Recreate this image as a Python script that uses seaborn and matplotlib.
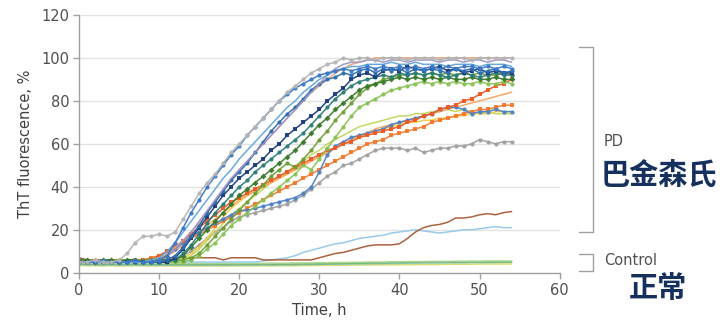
import matplotlib
matplotlib.use("Agg")
import matplotlib.pyplot as plt
import seaborn as sns

# -----------------------------
# data (ThT fluorescence, % ; one reading per hour, 0-54 h)
# -----------------------------
hours = list(range(0, 55))

gray_top = [5, 5, 6, 5, 5, 6, 9, 14, 17, 17, 18,
            17, 19, 25, 31, 37, 42, 46, 51, 56, 60, 64,
            68, 72, 76, 80, 84, 87, 90, 93, 95, 97, 98,
            100, 99, 100, 100, 99, 100, 100, 100, 99, 100, 100,
            100, 99, 100, 100, 100, 99, 100, 100, 100, 100, 100]
blue_fast = [5, 5, 5, 6, 5, 5, 5, 6, 5, 5, 6,
             8, 14, 21, 28, 34, 40, 45, 50, 55, 59, 64,
             68, 72, 76, 80, 83, 86, 88, 90, 92, 93, 94,
             95, 94, 95, 96, 95, 96, 95, 96, 95, 96, 95,
             96, 95, 96, 95, 96, 96, 95, 96, 95, 96, 95]
blue_thin = [5, 5, 5, 5, 5, 5, 5, 5, 5, 6, 7,
             10, 14, 19, 24, 29, 34, 39, 44, 48, 53, 57,
             61, 65, 69, 73, 77, 80, 84, 87, 90, 92, 94,
             95, 96, 96, 97, 97, 97, 98, 97, 97, 98, 97,
             97, 97, 96, 97, 97, 97, 96, 97, 97, 97, 96]
slate_thin = [5, 5, 5, 5, 5, 5, 5, 5, 5, 5, 6,
              8, 11, 15, 19, 24, 29, 34, 39, 44, 48, 52,
              56, 60, 64, 68, 72, 76, 80, 84, 88, 92, 95,
              97, 98, 98, 99, 99, 98, 99, 99, 98, 99, 99,
              99, 98, 99, 99, 98, 99, 99, 98, 99, 99, 98]
steel_blue = [5, 5, 5, 5, 5, 5, 5, 5, 5, 5, 5,
              6, 8, 12, 17, 22, 28, 33, 38, 43, 47, 51,
              56, 61, 66, 70, 74, 77, 81, 85, 88, 90, 91,
              93, 92, 94, 95, 93, 95, 94, 95, 93, 95, 94,
              95, 94, 93, 95, 94, 95, 93, 94, 95, 93, 94]
navy = [5, 5, 5, 5, 5, 5, 5, 5, 5, 5, 5,
        5, 7, 11, 16, 21, 26, 31, 36, 40, 44, 47,
        50, 53, 57, 60, 64, 67, 70, 73, 76, 80, 83,
        86, 90, 92, 93, 91, 94, 95, 94, 96, 95, 94,
        95, 96, 94, 95, 93, 94, 95, 93, 94, 93, 93]
teal = [5, 5, 5, 5, 5, 5, 5, 5, 5, 5, 5,
        5, 6, 9, 13, 18, 23, 28, 32, 36, 40, 43,
        47, 50, 53, 56, 59, 62, 65, 69, 73, 77, 81,
        84, 87, 89, 90, 91, 92, 91, 93, 92, 93, 92,
        93, 92, 91, 92, 93, 92, 91, 92, 93, 92, 92]
tan_line = [5, 5, 5, 5, 5, 5, 5, 5, 5, 6, 7,
            9, 12, 15, 19, 23, 28, 33, 38, 43, 48, 52,
            56, 60, 64, 68, 72, 76, 80, 84, 87, 90, 93,
            95, 97, 98, 99, 100, 100, 100, 100, 100, 100, 100,
            100, 100, 100, 100, 100, 100, 100, 100, 100, 100, 100]
dark_green = [6, 6, 5, 6, 6, 5, 6, 6, 5, 6, 6,
              6, 6, 8, 12, 16, 20, 24, 28, 32, 36, 39,
              42, 45, 48, 51, 54, 57, 61, 65, 69, 72, 76,
              79, 82, 85, 87, 88, 89, 90, 91, 90, 91, 90,
              91, 90, 91, 90, 90, 91, 90, 90, 91, 90, 90]
olive = [5, 6, 6, 5, 6, 6, 6, 5, 6, 6, 6,
         6, 6, 6, 7, 9, 13, 17, 21, 25, 29, 33,
         37, 41, 45, 48, 51, 49, 53, 57, 62, 66, 71,
         75, 79, 83, 86, 88, 90, 91, 92, 92, 93, 92,
         93, 92, 93, 92, 93, 92, 93, 92, 92, 93, 92]
light_green = [5, 5, 5, 5, 5, 5, 5, 5, 5, 5, 5,
               5, 5, 5, 6, 8, 11, 14, 18, 22, 25, 28,
               31, 34, 37, 40, 43, 46, 50, 48, 53, 58, 63,
               68, 73, 77, 79, 81, 83, 85, 86, 87, 88, 89,
               88, 89, 88, 89, 88, 88, 89, 88, 88, 89, 88]
red_orange = [5, 5, 5, 5, 5, 5, 5, 5, 6, 6, 8,
              10, 12, 15, 18, 21, 24, 27, 30, 33, 35, 37,
              39, 41, 43, 45, 47, 49, 51, 53, 55, 57, 58,
              60, 61, 63, 64, 65, 66, 67, 68, 70, 71, 73,
              74, 76, 77, 78, 80, 81, 83, 85, 87, 88, 90]
orange = [5, 5, 5, 5, 5, 5, 5, 6, 6, 7, 8,
          10, 12, 14, 16, 18, 20, 22, 24, 26, 28, 30,
          32, 34, 36, 38, 40, 42, 44, 46, 48, 50, 52,
          54, 56, 58, 60, 61, 62, 64, 65, 66, 67, 68,
          70, 71, 72, 73, 74, 75, 76, 76, 77, 78, 78]
light_orange = [5, 5, 5, 5, 5, 5, 5, 5, 5, 6, 7,
                8, 10, 13, 16, 19, 22, 25, 28, 31, 34, 36,
                38, 40, 42, 44, 46, 48, 50, 52, 54, 56, 58,
                60, 62, 64, 65, 67, 68, 69, 70, 71, 72, 73,
                74, 75, 76, 77, 78, 79, 80, 81, 82, 83, 84]
yellow = [5, 5, 5, 5, 5, 5, 5, 5, 5, 5, 5,
          5, 6, 7, 9, 12, 16, 21, 26, 30, 33, 36,
          38, 40, 42, 44, 46, 48, 50, 52, 54, 56, 58,
          60, 62, 63, 65, 66, 67, 68, 69, 70, 70, 71,
          71, 72, 72, 73, 73, 74, 74, 74, 75, 75, 75]
yellow_green = [5, 5, 5, 5, 5, 5, 5, 5, 5, 5, 5,
                5, 5, 6, 8, 11, 15, 19, 23, 27, 30, 33,
                36, 39, 42, 45, 47, 50, 52, 55, 57, 60, 62,
                64, 66, 68, 69, 70, 71, 72, 73, 73, 74, 74,
                75, 75, 76, 75, 76, 75, 74, 75, 74, 74, 74]
blue_slow = [5, 5, 5, 5, 5, 5, 5, 5, 5, 5, 6,
             8, 11, 14, 17, 19, 21, 23, 25, 27, 29, 29,
             30, 31, 32, 33, 34, 35, 37, 40, 47, 55, 59,
             61, 63, 64, 65, 66, 67, 69, 70, 71, 72, 73,
             74, 76, 77, 77, 76, 74, 75, 75, 76, 75, 75]
gray_low = [5, 5, 5, 5, 5, 5, 5, 5, 5, 5, 5,
            5, 6, 8, 10, 13, 16, 19, 21, 24, 26, 27,
            28, 29, 30, 31, 32, 34, 36, 39, 42, 45, 47,
            50, 51, 53, 55, 57, 58, 58, 58, 57, 58, 56,
            57, 58, 58, 59, 59, 60, 62, 61, 60, 61, 61]
brown = [7, 6, 6, 6, 6, 6, 6, 6, 6, 6, 7,
         7, 7, 7, 7, 7, 7, 7, 6, 7, 7, 7,
         7, 6, 6, 6, 6, 6, 6, 6, 7, 8, 9,
         9.5, 10.5, 11.5, 12.5, 13, 13, 13, 13.5, 16, 19, 21,
         22, 22.5, 23.5, 25.5, 25.5, 26, 27, 27.5, 27, 28, 28.5]
sky_blue = [5, 5, 5, 5, 5, 5, 5, 5, 5, 5, 5,
            5, 5, 5, 5, 5, 5, 5, 5, 5, 5, 5,
            5, 5.5, 6, 6.5, 7, 8, 9.5, 10.5, 11.5, 12.5, 13.5,
            14, 15, 16, 16.5, 17, 17.5, 18.5, 19, 19.5, 20, 19.5,
            19, 18.5, 19, 19.5, 20, 20, 20.5, 21, 21.5, 21, 21]

ctrl_green = [4.2, 4.1, 4.0, 4.1, 4.0, 4.1, 4.0, 4.0, 4.1, 4.0, 4.0,
              4.0, 3.9, 4.0, 4.0, 3.9, 4.0, 4.0, 3.9, 4.0, 4.0, 4.0,
              4.0, 4.1, 4.0, 4.0, 4.1, 4.1, 4.2, 4.2, 4.3, 4.3, 4.4,
              4.4, 4.5, 4.5, 4.6, 4.7, 4.7, 4.8, 4.9, 4.9, 5.0, 5.0,
              5.0, 5.1, 5.1, 5.0, 5.1, 5.2, 5.1, 5.1, 5.2, 5.1, 5.1]
ctrl_teal = [3.8, 3.7, 3.7, 3.6, 3.7, 3.6, 3.6, 3.7, 3.6, 3.6, 3.6,
             3.5, 3.6, 3.6, 3.5, 3.6, 3.5, 3.6, 3.6, 3.5, 3.6, 3.6,
             3.6, 3.7, 3.6, 3.7, 3.7, 3.8, 3.8, 3.9, 3.9, 4.0, 4.0,
             4.1, 4.1, 4.2, 4.2, 4.3, 4.3, 4.4, 4.4, 4.5, 4.5, 4.6,
             4.6, 4.6, 4.7, 4.7, 4.7, 4.8, 4.8, 4.8, 4.8, 4.9, 4.9]
ctrl_yellow = [3.4, 3.3, 3.3, 3.2, 3.3, 3.2, 3.2, 3.3, 3.2, 3.2, 3.2,
               3.2, 3.1, 3.2, 3.2, 3.1, 3.2, 3.2, 3.1, 3.2, 3.2, 3.2,
               3.2, 3.3, 3.2, 3.3, 3.3, 3.3, 3.4, 3.4, 3.4, 3.5, 3.5,
               3.5, 3.6, 3.6, 3.6, 3.7, 3.7, 3.7, 3.8, 3.8, 3.8, 3.9,
               3.9, 3.9, 4.0, 4.0, 4.0, 4.0, 4.1, 4.1, 4.1, 4.1, 4.1]
ctrl_lime = [4.6, 4.5, 4.5, 4.4, 4.5, 4.4, 4.4, 4.5, 4.4, 4.4, 4.4,
             4.3, 4.4, 4.4, 4.3, 4.4, 4.3, 4.4, 4.4, 4.3, 4.4, 4.4,
             4.4, 4.4, 4.5, 4.5, 4.5, 4.6, 4.6, 4.6, 4.7, 4.7, 4.8,
             4.8, 4.9, 4.9, 5.0, 5.0, 5.0, 5.1, 5.1, 5.2, 5.2, 5.2,
             5.3, 5.3, 5.3, 5.4, 5.4, 5.4, 5.4, 5.5, 5.5, 5.5, 5.5]

# (values, colour, marker)
series = [
    (ctrl_yellow, "#dcd86a", None),
    (ctrl_teal, "#7cc0b4", None),
    (ctrl_green, "#6db86a", None),
    (ctrl_lime, "#a9d38e", None),
    (sky_blue, "#93c8ea", None),
    (brown, "#a85a35", None),
    (gray_low, "#a0a0a0", "o"),
    (yellow_green, "#c2d45a", None),
    (yellow, "#f3cc48", None),
    (light_orange, "#f7a560", None),
    (orange, "#f27a2e", "s"),
    (blue_slow, "#4d80c6", "o"),
    (red_orange, "#ec5a22", "s"),
    (light_green, "#88c254", "o"),
    (olive, "#6f9e36", "o"),
    (dark_green, "#3a7a2c", "D"),
    (teal, "#2b7d78", "o"),
    (tan_line, "#e6a47a", None),
    (navy, "#1c3c7c", "s"),
    (steel_blue, "#2f6db0", "o"),
    (slate_thin, "#9c94c6", None),
    (blue_thin, "#62a5da", None),
    (blue_fast, "#3b78c6", "o"),
    (gray_top, "#b4b4b4", "o"),
]

sns.set_theme(style="white")
plt.rcParams["font.family"] = ["DejaVu Sans"]

fig = plt.figure(figsize=(7.25, 3.24), dpi=100)
ax = fig.add_axes([0.109, 0.158, 0.663, 0.796])

for vals, col, mk in series:
    sns.lineplot(x=hours, y=vals, ax=ax, color=col, linewidth=1.1,
                 marker=mk, markersize=3 if mk else 0,
                 markeredgewidth=0, alpha=0.95)

ax.set_xlim(0, 60)
ax.set_ylim(0, 120)
ax.set_xticks(range(0, 61, 10))
ax.set_yticks(range(0, 121, 20))
ax.yaxis.grid(True, color="#e2e2e2", linewidth=1)
ax.set_axisbelow(True)
for s in ["top", "right"]:
    ax.spines[s].set_visible(False)
for s in ["left", "bottom"]:
    ax.spines[s].set_color("#a0a0a0")
    ax.spines[s].set_linewidth(1)
ax.tick_params(axis="both", direction="out", length=4, width=1,
               color="#a0a0a0", labelcolor="#505050", labelsize=10.5,
               left=True, bottom=True, pad=3)
ax.set_xlabel("Time, h", fontsize=10.5, color="#404040", labelpad=4)
ax.set_ylabel("ThT fluorescence, %", fontsize=10.5, color="#404040", labelpad=6)

# brackets
bc = "#a0a0a0"
ax.plot([62.4, 64.2, 64.2, 62.4], [105, 105, 19, 19], color=bc, lw=1, clip_on=False)
ax.plot([62.4, 64.2, 64.2, 62.4], [8.7, 8.7, 1, 1], color=bc, lw=1, clip_on=False)

ax.text(65.5, 61, "PD", fontsize=10.5, color="#505050", va="center", ha="left")
ax.text(65.5, 5.6, "Control", fontsize=10.5, color="#505050", va="center", ha="left")
ax.text(65.1, 45.6, "巴金森氏", fontsize=21, color="#16305e", va="center", ha="left",
        fontweight="bold", family=["Noto Sans CJK TC", "DejaVu Sans"])
ax.text(68.6, -7.3, "正常", fontsize=21, color="#16305e", va="center", ha="left",
        fontweight="bold", family=["Noto Sans CJK TC", "DejaVu Sans"])

fig.savefig("out.png", dpi=100)
